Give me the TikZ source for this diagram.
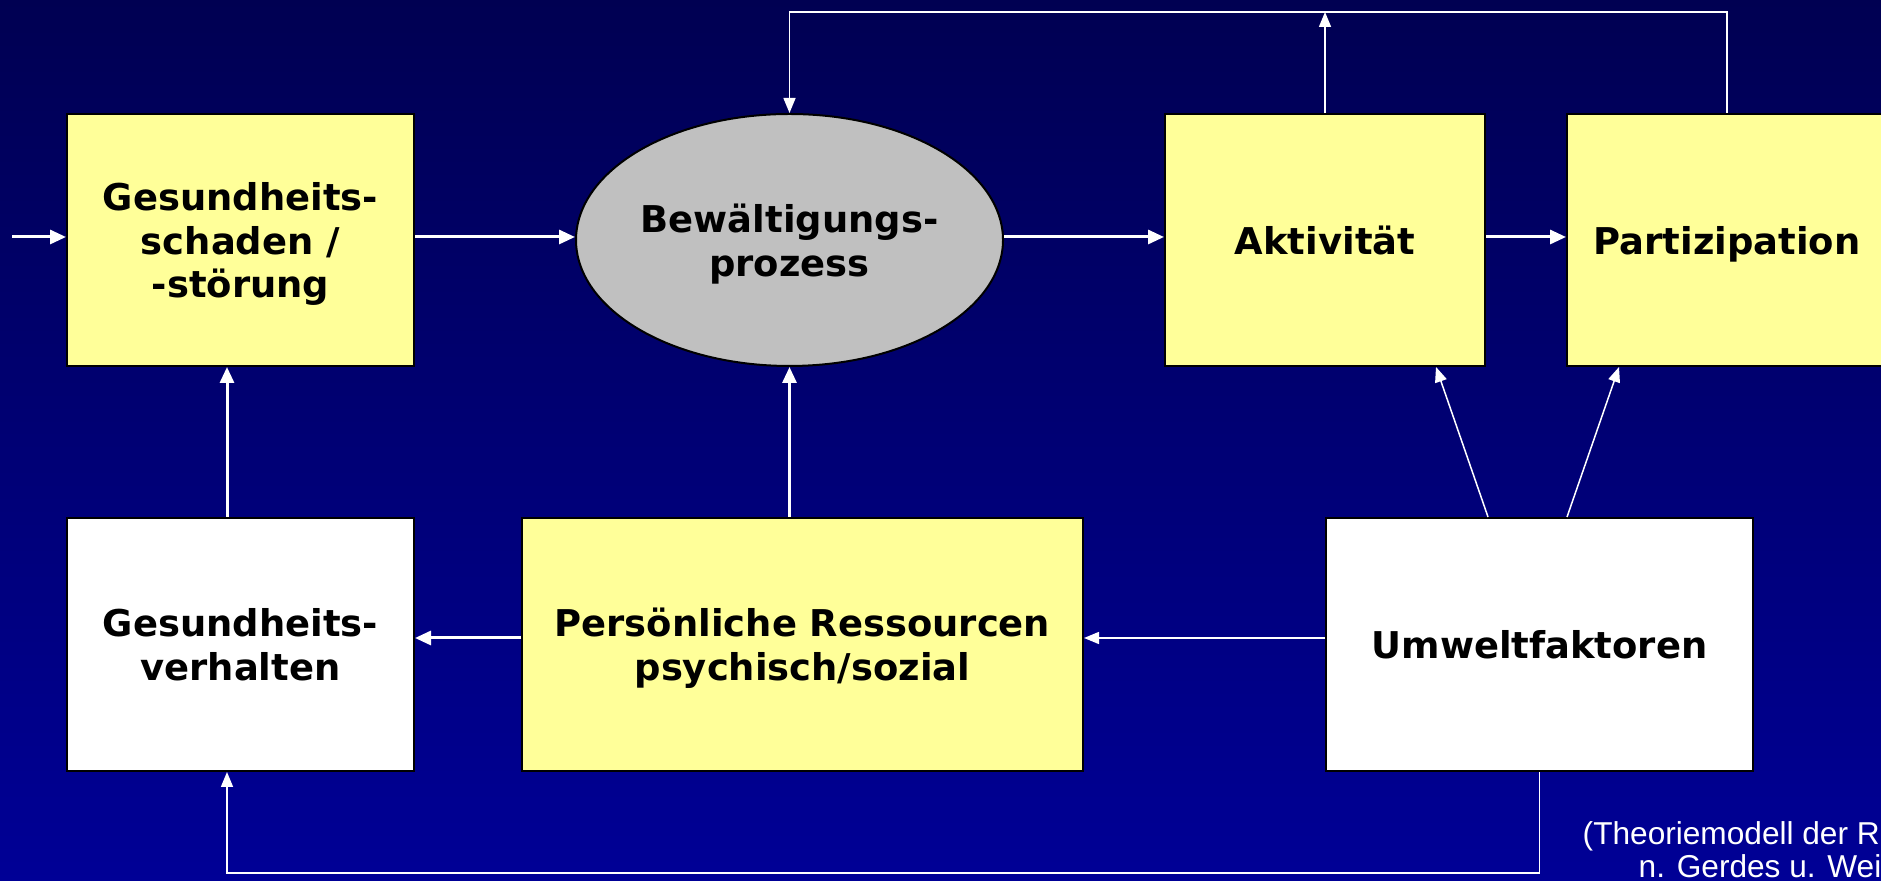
\documentclass[tikz,border=0pt]{standalone}
\usepackage{fontspec}
\setmainfont{DejaVu Sans}
\newfontfamily\notefont{Liberation Sans}
\usetikzlibrary{shapes.geometric,arrows.meta}
\definecolor{bgtop}{RGB}{0,0,82}
\definecolor{bgbottom}{RGB}{0,0,150}
\definecolor{boxyellow}{RGB}{255,255,153}
\definecolor{procgray}{RGB}{192,192,192}
\begin{document}
\begin{tikzpicture}[x=0.1mm, y=-0.1mm,
        box/.style={draw=black, line width=0.2mm, inner sep=0pt, align=center, text depth=0pt,
            font=\fontsize{10.5pt}{12.5pt}\selectfont\bfseries},
        yellowbox/.style={box, fill=boxyellow},
        whitebox/.style={box, fill=white},
        procell/.style={box, ellipse, fill=procgray},
        flow/.style={white, line width=0.3mm, -{Triangle[length=1.6mm,width=1.4mm]}},
        link/.style={white, line width=0.15mm, -{Triangle[length=1.5mm,width=1.2mm]}},
        note/.style={anchor=base west, white, inner sep=0pt, font=\notefont\fontsize{9pt}{10pt}\selectfont}]
        \useasboundingbox (0,0) rectangle (1881,881);
        \shade[top color=bgtop, bottom color=bgbottom] (0,0) rectangle (1881,881);
        \node[yellowbox, minimum width=34.7mm, minimum height=25.2mm] (gs) at (240.5,240) {Gesundheits-\\schaden /\\-störung};
        \node[procell, minimum width=42.7mm, minimum height=25.2mm] (bp) at (789.5,240) {Bewältigungs-\\prozess};
        \node[yellowbox, minimum width=32mm, minimum height=25.2mm] (ak) at (1325,240) {Aktivität};
        \node[yellowbox, minimum width=32mm, minimum height=25.2mm] (pa) at (1727,240) {Partizipation};
        \node[whitebox, minimum width=34.7mm, minimum height=25.3mm] (gv) at (240.5,644.5) {Gesundheits-\\verhalten};
        \node[yellowbox, minimum width=56.1mm, minimum height=25.3mm] (pr) at (802.5,644.5) {Persönliche Ressourcen\\psychisch/sozial};
        \node[whitebox, minimum width=42.7mm, minimum height=25.3mm] (uw) at (1539.5,644.5) {Umweltfaktoren};
        \coordinate (in) at (12,237);
        \coordinate (top) at (0,12);
        \coordinate (bot) at (0,873);
        \coordinate (lx) at (227,0);
        \coordinate (hy) at (0,638);
        \draw[flow] (in) -- (in -| gs.west);
        \draw[flow] (gs.east |- in) -- (bp.west |- in);
        \draw[flow] (bp.east |- in) -- (ak.west |- in);
        \draw[flow] (ak.east |- in) -- (pa.west |- in);
        \draw[link] (ak.north) -- (ak.north |- top);
        \draw[link] (pa.north) -- (pa.north |- top) -- (bp.north |- top) -- (bp.north);
        \draw[flow] (pr.north -| bp.south) -- (bp.south);
        \draw[flow] (gv.north -| lx) -- (gs.south -| lx);
        \draw[flow] (pr.west |- hy) -- (gv.east |- hy);
        \draw[link] (uw.west |- hy) -- (pr.east |- hy);
        \draw[link] ([xshift=-5.15mm]uw.north) -- ([xshift=11.1mm]ak.south);
        \draw[link] ([xshift=2.75mm]uw.north) -- ([xshift=-10.8mm]pa.south);
        \draw[link] (uw.south) -- (uw.south |- bot) -- (lx |- bot) -- (gv.south -| lx);
        \node[note] (fn1) at (1582,845) {(Theoriemodell der R};
        \node[note] (fn2) at (1638,878) {n. Gerdes u. Weis};
\end{tikzpicture}
\end{document}
